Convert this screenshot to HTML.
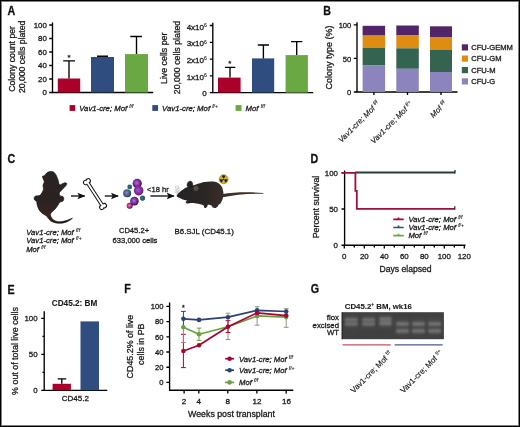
<!DOCTYPE html>
<html><head><meta charset="utf-8">
<style>
html,body{margin:0;padding:0;background:#fff;}
body{width:520px;height:427px;overflow:hidden;position:relative;}
svg{position:absolute;left:0;top:0;display:block;will-change:transform;}
text{font-family:"Liberation Sans",sans-serif;fill:#1a1a1a;stroke:#1a1a1a;stroke-width:0.3px;}
.it{font-style:italic;}
tspan[font-size="5"]{stroke-width:0.12px;}
.lt text{stroke-width:0.16px;}
.b{font-weight:bold;stroke-width:0.1px;}
.pl{font-weight:bold;font-size:12.6px;stroke:#111;stroke-width:0.3px;fill:#111;}
</style></head><body>
<svg width="520" height="427" viewBox="0 0 520 427">
<rect x="0" y="0" width="520" height="427" fill="#fff"/>

<!-- ============ PANEL A ============ -->
<text transform="translate(7.5,14.6) scale(0.85,1)" class="pl">A</text>
<g font-size="8.7">
  <text transform="translate(15.4,58.9) rotate(-90)" text-anchor="middle">Colony count per</text>
  <text transform="translate(25,56.9) rotate(-90)" text-anchor="middle">20,000 cells plated</text>
</g>
<g font-size="7.9" text-anchor="end">
  <text x="46.8" y="27.8">100</text>
  <text x="46.8" y="41.3">80</text>
  <text x="46.8" y="54.8">60</text>
  <text x="46.8" y="68.3">40</text>
  <text x="46.8" y="81.8">20</text>
  <text x="46.8" y="95.3">0</text>
</g>
<g stroke="#000" stroke-width="1.35" fill="none">
  <path d="M52.5,22.6V92.5H153.2"/>
  <path d="M49.2,25H52.5M49.2,38.5H52.5M49.2,52H52.5M49.2,65.5H52.5M49.2,79H52.5M49.2,92.5H52.5"/>
</g>
<rect x="57.8" y="78.5" width="22.4" height="14" fill="#ab0029"/>
<rect x="91" y="57" width="23" height="35.5" fill="#2f4d7e"/>
<rect x="125" y="54.1" width="23" height="38.4" fill="#69a843"/>
<g stroke="#000" stroke-width="1.35" fill="none">
  <path d="M69,78.5V60.9M63.2,60.9H75"/>
  <path d="M102.5,57V56.2M97,56.2H108"/>
  <path d="M136.5,54.1V36.5M130.3,36.5H142"/>
</g>
<text x="69" y="59.5" font-size="8" text-anchor="middle">*</text>

<!-- A right chart -->
<g font-size="8.8">
  <text transform="translate(167.4,58.3) rotate(-90)" text-anchor="middle">Live cells per</text>
  <text transform="translate(179.6,57.5) rotate(-90)" text-anchor="middle">20,000 cells plated</text>
</g>
<g font-size="8" text-anchor="end">
  <text x="206.8" y="29.5">4x10<tspan dy="-2.8" font-size="5">6</tspan></text>
  <text x="206.8" y="46.3">3x10<tspan dy="-2.8" font-size="5">6</tspan></text>
  <text x="206.8" y="63">2x10<tspan dy="-2.8" font-size="5">6</tspan></text>
  <text x="206.8" y="79.8">1x10<tspan dy="-2.8" font-size="5">6</tspan></text>
  <text x="206.6" y="95.5">0</text>
</g>
<g stroke="#000" stroke-width="1.35" fill="none">
  <path d="M212.8,22.7V92.6H313.2"/>
  <path d="M209.8,25.5H212.8M209.8,42.3H212.8M209.8,59.1H212.8M209.8,75.8H212.8M209.8,92.6H212.8"/>
</g>
<rect x="218" y="77.6" width="22.6" height="15" fill="#ab0029"/>
<rect x="252" y="58.4" width="22.2" height="34.2" fill="#2f4d7e"/>
<rect x="285.6" y="55.1" width="22.3" height="37.5" fill="#69a843"/>
<g stroke="#000" stroke-width="1.35" fill="none">
  <path d="M230,77.6V67.3M225,67.3H235.3"/>
  <path d="M263.4,58.4V45M257.8,45H269"/>
  <path d="M296.7,55.1V41.6M291,41.6H302.3"/>
</g>
<text x="229.7" y="65.8" font-size="8" text-anchor="middle">*</text>

<!-- A legend -->
<rect x="69.6" y="105.1" width="5.6" height="5.8" fill="#ab0029"/>
<text x="79.2" y="110.6" font-size="7.75" class="it">Vav1-cre; Mof<tspan dx="0.8" dy="-3" font-size="5"> f/f</tspan></text>
<rect x="152.3" y="105.1" width="5.8" height="5.8" fill="#2f4d7e"/>
<text x="162.1" y="110.6" font-size="7.75" class="it">Vav1-cre; Mof<tspan dx="0.8" dy="-3" font-size="5"> f/+</tspan></text>
<rect x="235.6" y="105.1" width="5.9" height="5.8" fill="#69a843"/>
<text x="245.6" y="110.6" font-size="7.75" class="it">Mof<tspan dx="0.8" dy="-3" font-size="5"> f/f</tspan></text>

<!-- ============ PANEL B ============ -->
<text transform="translate(323.3,14.6) scale(0.85,1)" class="pl">B</text>
<text transform="translate(331.8,57.5) rotate(-90)" text-anchor="middle" font-size="9">Colony type (%)</text>
<g font-size="7.6" text-anchor="end">
  <text x="351.3" y="27.9">100</text>
  <text x="351.3" y="61.9">50</text>
  <text x="351.3" y="95">0</text>
</g>
<g stroke="#000" stroke-width="1.35" fill="none">
  <path d="M357,22.2V92H457.5"/>
  <path d="M353.8,24.8H357M353.8,58.4H357M353.8,92H357"/>
  <path d="M373.9,92V95M407.5,92V95M441,92V95"/>
</g>
<!-- bar1 -->
<rect x="362.6" y="25.8" width="22.5" height="9.8" fill="#522568"/>
<rect x="362.6" y="35.6" width="22.5" height="12.4" fill="#de8c12"/>
<rect x="362.6" y="48" width="22.5" height="17.1" fill="#346450"/>
<rect x="362.6" y="65.1" width="22.5" height="26.9" fill="#8c85bd"/>
<!-- bar2 -->
<rect x="396.3" y="25.5" width="22.5" height="10" fill="#522568"/>
<rect x="396.3" y="35.5" width="22.5" height="12.8" fill="#de8c12"/>
<rect x="396.3" y="48.3" width="22.5" height="20.5" fill="#346450"/>
<rect x="396.3" y="68.8" width="22.5" height="23.2" fill="#8c85bd"/>
<!-- bar3 -->
<rect x="430" y="26.3" width="22" height="10.7" fill="#522568"/>
<rect x="430" y="37" width="22" height="13" fill="#de8c12"/>
<rect x="430" y="50" width="22" height="22" fill="#346450"/>
<rect x="430" y="72" width="22" height="20" fill="#8c85bd"/>
<!-- B legend -->
<rect x="461.8" y="44.3" width="6.2" height="6.2" fill="#522568"/>
<rect x="461.8" y="55.5" width="6.2" height="6.2" fill="#de8c12"/>
<rect x="461.8" y="67" width="6.2" height="6.2" fill="#346450"/>
<rect x="461.8" y="78.3" width="6.2" height="6.2" fill="#8c85bd"/>
<g font-size="7.6">
  <text x="471.2" y="50.2">CFU-GEMM</text>
  <text x="471.2" y="61.4">CFU-GM</text>
  <text x="471.2" y="72.9">CFU-M</text>
  <text x="471.2" y="84.2">CFU-G</text>
</g>
<g font-size="7.8" class="it lt" text-anchor="end">
  <text transform="translate(380,104.5) rotate(-45)">Vav1-cre; Mof<tspan dx="0.8" dy="-3" font-size="5"> f/f</tspan></text>
  <text transform="translate(413.5,104.5) rotate(-45)">Vav1-cre; Mof<tspan dx="0.8" dy="-3" font-size="5"> f/+</tspan></text>
  <text transform="translate(447,104.5) rotate(-45)">Mof<tspan dx="0.8" dy="-3" font-size="5"> f/f</tspan></text>
</g>

<!-- ============ PANEL C ============ -->
<text transform="translate(7.6,163.1) scale(0.85,1)" class="pl">C</text>
<defs>
  <linearGradient id="mg1" x1="0" y1="0" x2="0" y2="1">
    <stop offset="0" stop-color="#292423"/>
    <stop offset="0.55" stop-color="#2a2221"/>
    <stop offset="0.85" stop-color="#3a2422"/>
    <stop offset="1" stop-color="#2a1c1a"/>
  </linearGradient>
  <linearGradient id="mg2" x1="0" y1="0" x2="1" y2="0">
    <stop offset="0" stop-color="#252323"/>
    <stop offset="0.6" stop-color="#2a2624"/>
    <stop offset="1" stop-color="#3b2e28"/>
  </linearGradient>
  <marker id="ah" viewBox="0 0 10 10" refX="9" refY="5" markerWidth="8" markerHeight="7.4" markerUnits="userSpaceOnUse" orient="auto" preserveAspectRatio="none">
    <path d="M0,0.5 L10,5 L0,9.5 L2.2,5 Z" fill="#111"/>
  </marker>
</defs>
<!-- left mouse (top view) -->
<path fill="url(#mg1)" stroke="#0c0a0a" stroke-width="0.6" d="M49.90,171.50 C50.98,171.35 52.38,171.33 53.40,171.90 C54.42,172.47 55.22,173.53 56.00,174.90 C56.78,176.27 57.53,178.48 58.10,180.10 C58.67,181.72 58.82,183.92 59.40,184.60 C59.98,185.28 60.73,184.50 61.60,184.20 C62.47,183.90 63.73,182.90 64.60,182.80 C65.47,182.70 66.60,183.10 66.80,183.60 C67.00,184.10 66.40,184.98 65.80,185.80 C65.20,186.62 64.02,187.63 63.20,188.50 C62.38,189.37 61.57,190.25 60.90,191.00 C60.23,191.75 59.32,192.17 59.20,193.00 C59.08,193.83 59.63,195.45 60.20,196.00 C60.77,196.55 62.00,195.88 62.60,196.30 C63.20,196.72 63.77,197.68 63.80,198.50 C63.83,199.32 63.47,200.58 62.80,201.20 C62.13,201.82 60.65,201.47 59.80,202.20 C58.95,202.93 58.48,204.47 57.70,205.60 C56.92,206.73 56.13,207.85 55.10,209.00 C54.07,210.15 52.28,211.50 51.50,212.50 C50.72,213.50 50.25,213.92 50.40,215.00 C50.55,216.08 51.47,217.97 52.40,219.00 C53.33,220.03 54.57,220.75 56.00,221.20 C57.43,221.65 59.28,221.82 61.00,221.70 C62.72,221.58 64.40,221.07 66.30,220.50 C68.20,219.93 72.32,218.07 72.40,218.30 C72.48,218.53 68.78,221.08 66.80,221.90 C64.82,222.72 62.47,223.07 60.50,223.20 C58.53,223.33 56.60,223.07 55.00,222.70 C53.40,222.33 52.03,221.73 50.90,221.00 C49.77,220.27 48.92,219.13 48.20,218.30 C47.48,217.47 47.55,216.80 46.60,216.00 C45.65,215.20 43.73,214.50 42.50,213.50 C41.27,212.50 40.08,211.42 39.20,210.00 C38.32,208.58 37.63,206.42 37.20,205.00 C36.77,203.58 37.03,202.33 36.60,201.50 C36.17,200.67 35.00,200.67 34.60,200.00 C34.20,199.33 33.97,198.17 34.20,197.50 C34.43,196.83 35.17,196.32 36.00,196.00 C36.83,195.68 38.33,195.93 39.20,195.60 C40.07,195.27 40.50,195.00 41.20,194.00 C41.90,193.00 43.10,191.05 43.40,189.60 C43.70,188.15 42.85,186.60 43.00,185.30 C43.15,184.00 44.30,182.95 44.30,181.80 C44.30,180.65 43.30,179.33 43.00,178.40 C42.70,177.47 42.22,176.70 42.50,176.20 C42.78,175.70 43.97,175.97 44.70,175.40 C45.43,174.83 46.03,173.45 46.90,172.80 C47.77,172.15 48.82,171.65 49.90,171.50Z"/>
<!-- arrows -->
<g stroke="#111" stroke-width="1.35" fill="none">
  <path d="M71,196H84.6" marker-end="url(#ah)"/>
  <path d="M104.8,196H118.1" marker-end="url(#ah)"/>
  <path d="M150.4,196H173.9" marker-end="url(#ah)"/>
</g>
<!-- bone -->
<g transform="translate(95,194.1) rotate(57)">
  <g fill="#111" stroke="#111" stroke-width="2">
    <rect x="-14" y="-0.9" width="28" height="1.8"/>
    <circle cx="-14.8" cy="-1.5" r="1.7"/><circle cx="-14.8" cy="1.5" r="1.7"/>
    <circle cx="14.8" cy="-1.5" r="1.7"/><circle cx="14.8" cy="1.5" r="1.7"/>
  </g>
  <g fill="#fff">
    <rect x="-14.5" y="-0.9" width="29" height="1.8"/>
    <circle cx="-14.8" cy="-1.5" r="1.7"/><circle cx="-14.8" cy="1.5" r="1.7"/>
    <circle cx="14.8" cy="-1.5" r="1.7"/><circle cx="14.8" cy="1.5" r="1.7"/>
  </g>
</g>
<!-- cells -->
<defs>
  <radialGradient id="gP" cx="0.45" cy="0.45" r="0.55"><stop offset="0" stop-color="#b070d8"/><stop offset="0.55" stop-color="#7e34a8"/><stop offset="0.85" stop-color="#4a1a6a"/><stop offset="1" stop-color="#2a1038"/></radialGradient>
  <radialGradient id="gPM" cx="0.45" cy="0.45" r="0.55"><stop offset="0" stop-color="#a060d8"/><stop offset="0.55" stop-color="#7a32aa"/><stop offset="0.8" stop-color="#9a2288"/><stop offset="1" stop-color="#3a1030"/></radialGradient>
  <radialGradient id="gB" cx="0.45" cy="0.45" r="0.55"><stop offset="0" stop-color="#4a78c8"/><stop offset="0.5" stop-color="#2a4a94"/><stop offset="0.78" stop-color="#2a8048"/><stop offset="1" stop-color="#1a3020"/></radialGradient>
  <radialGradient id="gBP" cx="0.45" cy="0.45" r="0.55"><stop offset="0" stop-color="#8a88d8"/><stop offset="0.55" stop-color="#5a56a8"/><stop offset="0.8" stop-color="#2a7848"/><stop offset="1" stop-color="#18281c"/></radialGradient>
  <radialGradient id="gK" cx="0.45" cy="0.45" r="0.55"><stop offset="0" stop-color="#f070b8"/><stop offset="0.55" stop-color="#c03488"/><stop offset="0.85" stop-color="#6a1a50"/><stop offset="1" stop-color="#2a0c20"/></radialGradient>
</defs>
<g>
  <circle cx="129.7" cy="186.9" r="2.4" fill="url(#gB)"/>
  <circle cx="127.1" cy="193.2" r="4" fill="url(#gBP)"/>
  <circle cx="137.2" cy="183.4" r="4.6" fill="url(#gP)"/>
  <circle cx="138.6" cy="190.6" r="4.8" fill="url(#gPM)"/>
  <circle cx="142.5" cy="198.1" r="2.6" fill="url(#gB)"/>
  <circle cx="134.4" cy="201.1" r="4.3" fill="url(#gP)"/>
  <circle cx="129.7" cy="205.8" r="3" fill="url(#gK)"/>
</g>
<text x="147.1" y="191.5" font-size="7.6">&lt;18 hr</text>
<!-- right mouse (side) -->
<g stroke="#9a9a9a" stroke-width="0.45" fill="none"><path d="M175.2,186.2L177.8,193M176.8,185.4L178.6,192.6M174.6,189.2L178,193.6M178.6,185.8L179.2,192.2M173.8,191.2L177.6,194"/></g>
<path fill="#3c2e29" d="M222.62,193.98 C234.04,192.08 248.85,191.87 263.24,192.92 L263.24,193.77 C248.85,193.35 234.04,194.62 222.62,197.37Z"/>
<path fill="url(#mg2)" d="M176.60,196.00 C176.60,195.13 178.18,193.63 179.20,192.60 C180.22,191.57 181.53,190.65 182.70,189.80 C183.87,188.95 185.07,188.07 186.20,187.50 C187.33,186.93 188.37,186.72 189.50,186.40 C190.63,186.08 191.92,185.90 193.00,185.60 C194.08,185.30 195.03,184.95 196.00,184.60 C196.97,184.25 197.37,183.93 198.80,183.50 C200.23,183.07 202.48,182.35 204.60,182.00 C206.72,181.65 209.38,181.32 211.50,181.40 C213.62,181.48 215.67,181.73 217.30,182.50 C218.93,183.27 220.33,184.62 221.30,186.00 C222.27,187.38 222.75,189.33 223.10,190.80 C223.45,192.27 223.47,193.47 223.40,194.80 C223.33,196.13 223.13,197.45 222.70,198.80 C222.27,200.15 221.48,201.90 220.80,202.90 C220.12,203.90 219.13,204.18 218.60,204.80 C218.07,205.42 218.10,206.07 217.60,206.60 C217.10,207.13 216.38,207.83 215.60,208.00 C214.82,208.17 213.58,208.03 212.90,207.60 C212.22,207.17 212.32,205.87 211.50,205.40 C210.68,204.93 208.70,204.60 208.00,204.80 C207.30,205.00 207.67,206.07 207.30,206.60 C206.93,207.13 206.35,207.83 205.80,208.00 C205.25,208.17 204.38,208.03 204.00,207.60 C203.62,207.17 204.75,206.07 203.50,205.40 C202.25,204.73 198.62,204.00 196.50,203.60 C194.38,203.20 192.12,203.00 190.80,203.00 C189.48,203.00 189.40,203.60 188.60,203.60 C187.80,203.60 186.43,203.33 186.00,203.00 C185.57,202.67 185.78,202.00 186.00,201.60 C186.22,201.20 187.85,200.97 187.30,200.60 C186.75,200.23 184.05,199.87 182.70,199.40 C181.35,198.93 180.22,198.37 179.20,197.80 C178.18,197.23 176.60,196.87 176.60,196.00Z"/>
<path fill="#262222" stroke="#0e0e0e" stroke-width="0.6" d="M187.60,186.60 C186.80,186.10 187.13,184.27 187.40,183.40 C187.67,182.53 188.53,181.70 189.20,181.40 C189.87,181.10 190.83,181.23 191.40,181.60 C191.97,181.97 192.47,182.80 192.60,183.60 C192.73,184.40 193.03,185.90 192.20,186.40 C191.37,186.90 188.40,187.10 187.60,186.60Z"/>
<circle cx="196" cy="188.4" r="3.1" fill="#564e44" stroke="#1a1818" stroke-width="0.7"/>
<!-- radiation -->
<g transform="translate(223.6,179.2)">
  <circle r="4.5" fill="#d8b226" stroke="#8c6c12" stroke-width="0.5"/>
  <circle r="0.8" fill="#222"/>
  <path fill="#222" d="M1.1,-0.6 L3.4,-2 A4,4 0 0 1 3.4,2 L1.1,0.6 Z" transform="rotate(-90)"/>
  <path fill="#222" d="M1.1,-0.6 L3.4,-2 A4,4 0 0 1 3.4,2 L1.1,0.6 Z" transform="rotate(30)"/>
  <path fill="#222" d="M1.1,-0.6 L3.4,-2 A4,4 0 0 1 3.4,2 L1.1,0.6 Z" transform="rotate(150)"/>
</g>
<g font-size="7.7" class="it">
  <text x="26.2" y="235">Vav1-cre; Mof<tspan dx="0.8" dy="-3" font-size="5"> f/f</tspan></text>
  <text x="26.2" y="243.1">Vav1-cre; Mof<tspan dx="0.8" dy="-3" font-size="5"> f/+</tspan></text>
  <text x="26.2" y="251.7">Mof<tspan dx="0.8" dy="-3" font-size="5"> f/f</tspan></text>
</g>
<g font-size="7.6" text-anchor="middle">
  <text x="134" y="233">CD45.2+</text>
  <text x="135" y="243">633,000 cells</text>
  <text x="204.2" y="233.8" font-size="7.9">B6.SJL (CD45.1)</text>
</g>

<!-- ============ PANEL D ============ -->
<text transform="translate(310.6,162.6) scale(0.85,1)" class="pl">D</text>
<text transform="translate(319,207) rotate(-90)" text-anchor="middle" font-size="8.8">Percent survival</text>
<g font-size="7.9" text-anchor="end">
  <text x="338" y="175.7">100</text>
  <text x="338" y="211.9">50</text>
  <text x="338" y="248.1">0</text>
</g>
<g font-size="7.9" text-anchor="middle">
  <text x="344.3" y="258.6">0</text>
  <text x="364.3" y="258.6">20</text>
  <text x="384.3" y="258.6">40</text>
  <text x="404.3" y="258.6">60</text>
  <text x="424.3" y="258.6">80</text>
  <text x="444.3" y="258.6">100</text>
  <text x="464.3" y="258.6">120</text>
</g>
<text x="405.6" y="271.6" font-size="8.6" text-anchor="middle">Days elapsed</text>
<g stroke="#000" stroke-width="1.35" fill="none">
  <path d="M344.6,170.4V245.2H465.5"/>
  <path d="M341.5,172.8H344.5M341.5,209H344.5M341.5,245.2H344.5"/>
  <path d="M344.3,245V248.5M354.3,245V247.5M364.3,245V248.5M374.3,245V247.5M384.3,245V248.5M394.3,245V247.5M404.3,245V248.5M414.3,245V247.5M424.3,245V248.5M434.3,245V247.5M444.3,245V248.5M454.3,245V247.5M464.3,245V248.5"/>
</g>
<g fill="none" stroke-width="1.3">
  <path d="M355,172.6H455" stroke="#2b3d38" stroke-width="2"/>
  <path d="M455,173.5V170" stroke="#1a2420" stroke-width="1.2"/>
  <path d="M341.6,172.8H355.4V190.9H356.8V208.9H454.8" stroke="#9a1040" stroke-width="1.8"/>
  <path d="M454.8,209.5V206.2" stroke="#2a1a1a" stroke-width="1.2"/>
</g>
<g fill="none" stroke-width="1.7">
  <path d="M393.3,219.4H403.7M398.5,217.5V219.4" stroke="#a6052f"/>
  <path d="M393.3,227.5H403.7M398.5,225.6V227.5" stroke="#2f4d7e"/>
  <path d="M393.3,235.6H403.7M398.5,233.7V235.6" stroke="#69a843"/>
</g>
<g font-size="7.7" class="it">
  <text x="408.4" y="222">Vav1-cre; Mof<tspan dx="0.8" dy="-3" font-size="5"> f/f</tspan></text>
  <text x="408.4" y="230.1">Vav1-cre; Mof<tspan dx="0.8" dy="-3" font-size="5"> f/+</tspan></text>
  <text x="408.4" y="238.2">Mof<tspan dx="0.8" dy="-3" font-size="5"> f/f</tspan></text>
</g>

<!-- ============ PANEL E ============ -->
<text transform="translate(7.5,293.5) scale(0.85,1)" class="pl">E</text>
<text x="74.5" y="306.1" class="b" font-size="8.2" text-anchor="middle">CD45.2: BM</text>
<text transform="translate(17.6,351) rotate(-90)" text-anchor="middle" font-size="8.9">% out of total live cells</text>
<g font-size="7.9" text-anchor="end">
  <text x="37.6" y="321.4">100</text>
  <text x="37.6" y="357.3">50</text>
  <text x="37.6" y="393.1">0</text>
</g>
<g stroke="#000" stroke-width="1.35" fill="none">
  <path d="M44.2,311.2V390.3H107.3"/>
  <path d="M41.2,318.4H44.2M41.2,354.4H44.2M41.2,390.3H44.2M42.4,336.4H44.2M42.4,372.3H44.2"/>
</g>
<rect x="52.6" y="383.8" width="18.3" height="6.5" fill="#ab0029"/>
<rect x="80.5" y="321.4" width="18.5" height="68.9" fill="#2f4d7e"/>
<g stroke="#000" stroke-width="1.35" fill="none">
  <path d="M61.8,383.8V378.8M57.7,378.8H66.2"/>
</g>
<text x="75.3" y="401.2" font-size="8" text-anchor="middle">CD45.2</text>

<!-- ============ PANEL F ============ -->
<text transform="translate(124.2,293.2) scale(0.85,1)" class="pl">F</text>
<g font-size="8.9" text-anchor="middle">
  <text transform="translate(132.7,346.6) rotate(-90)">CD45.2% of live</text>
  <text transform="translate(144.3,344.2) rotate(-90)">cells in PB</text>
</g>
<g font-size="7.6" text-anchor="end">
  <text x="163.5" y="309.2">100</text>
  <text x="163.5" y="324.4">80</text>
  <text x="163.5" y="339.6">60</text>
  <text x="163.5" y="354.8">40</text>
  <text x="163.5" y="370">20</text>
  <text x="163.5" y="385.2">0</text>
</g>
<g stroke="#000" stroke-width="1.35" fill="none">
  <path d="M169.6,302.6V390.2H293.3"/>
  <path d="M166.4,306.4H169.6M166.4,321.6H169.6M166.4,336.8H169.6M166.4,352H169.6M166.4,367.2H169.6M166.4,382.4H169.6"/>
  <path d="M184.1,390V393.5M198.8,390V393.5M227.8,390V393.5M256.9,390V393.5M286.2,390V393.5"/>
</g>
<g font-size="8.1" text-anchor="middle">
  <text x="184.1" y="404.1">2</text>
  <text x="198.8" y="404.1">4</text>
  <text x="227.8" y="404.1">8</text>
  <text x="256.9" y="404.1">12</text>
  <text x="286.5" y="404.1">16</text>
</g>
<text x="231.5" y="417" font-size="8.8" text-anchor="middle">Weeks post transplant</text>
<text x="183.4" y="310" font-size="7" text-anchor="middle">*</text>
<!-- error bars -->
<g fill="none" stroke-width="1">
  <path d="M183.4,334.3V367.6M181,334.3H185.8M181,367.6H185.8" stroke="#a6052f"/>
  <path d="M183.4,311.4V326M181,311.4H185.8" stroke="#2a4372"/>
  <path d="M183.4,327V342.5M181,342.5H185.8" stroke="#c07080"/>
  <path d="M199,328.1V340.4M196.6,328.1H201.4M196.6,340.4H201.4" stroke="#68a041"/>
  <path d="M228,313.2V339.5M225.6,313.2H230.4M225.6,339.5H230.4" stroke="#8a9a7a"/>
  <path d="M228,320.7V332.5M225.6,320.7H230.4M225.6,332.5H230.4" stroke="#a6052f"/>
  <path d="M257.1,306.7V325.2M254.7,306.7H259.5M254.7,325.2H259.5" stroke="#8a9a7a"/>
  <path d="M286.2,308.7V327.3M283.8,308.7H288.6M283.8,327.3H288.6" stroke="#8a9a7a"/>
</g>
<g fill="none" stroke-width="1.7" stroke-linejoin="round">
  <polyline points="183.4,327.2 199,334.3 228,326.7 257.1,315.9 286.2,317.1" stroke="#68a041"/>
  <polyline points="183.4,318.8 199,319.9 228,317.2 257.1,310.4 286.2,311.5" stroke="#2a4372"/>
  <polyline points="183.4,351 199,345.2 228,326.7 257.1,312.9 286.2,315.6" stroke="#a6052f"/>
</g>
<g fill="#68a041"><circle cx="183.4" cy="327.2" r="2.3"/><circle cx="199" cy="334.3" r="2.3"/><circle cx="257.1" cy="315.9" r="2.3"/><circle cx="286.2" cy="317.1" r="2.3"/></g>
<g fill="#2a4372"><circle cx="183.4" cy="318.8" r="2.3"/><circle cx="199" cy="319.9" r="2.3"/><circle cx="228" cy="317.2" r="2.3"/><circle cx="257.1" cy="310.4" r="2.3"/><circle cx="286.2" cy="311.5" r="2.3"/></g>
<g fill="#a6052f"><circle cx="183.4" cy="351" r="2.3"/><circle cx="199" cy="345.2" r="2.3"/><circle cx="228" cy="326.7" r="2.3"/><circle cx="257.1" cy="312.9" r="2.3"/><circle cx="286.2" cy="315.6" r="2.3"/></g>
<!-- F legend -->
<g stroke-width="1.7">
  <path d="M225.2,358.7H234" stroke="#a6052f"/><circle cx="229.6" cy="358.7" r="2.3" fill="#a6052f"/>
  <path d="M225.2,370.2H234" stroke="#2a4372"/><circle cx="229.6" cy="370.2" r="2.3" fill="#2a4372"/>
  <path d="M225.2,382.4H234" stroke="#68a041"/><circle cx="229.6" cy="382.4" r="2.3" fill="#68a041"/>
</g>
<g font-size="7.7" class="it">
  <text x="239" y="361.5">Vav1-cre; Mof<tspan dx="0.8" dy="-3" font-size="5"> f/f</tspan></text>
  <text x="239" y="373">Vav1-cre; Mof<tspan dx="0.8" dy="-3" font-size="5"> f/+</tspan></text>
  <text x="239" y="385.2">Mof<tspan dx="0.8" dy="-3" font-size="5"> f/f</tspan></text>
</g>

<!-- ============ PANEL G ============ -->
<text transform="translate(310.7,293.4) scale(0.85,1)" class="pl">G</text>
<text x="344.8" y="309" class="b" font-size="7.8">CD45.2<tspan dy="-3" font-size="5">+</tspan><tspan dy="3"> BM, wk16</tspan></text>
<g font-size="7.8" text-anchor="end">
  <text x="339" y="320.4">flox</text>
  <text x="339" y="327.6">excised</text>
  <text x="339" y="335.4">WT</text>
</g>
<defs>
  <filter id="blur1" x="-20%" y="-50%" width="140%" height="200%"><feGaussianBlur stdDeviation="0.85"/></filter>
  <filter id="blur2" x="-30%" y="-30%" width="160%" height="160%"><feGaussianBlur stdDeviation="1.5"/></filter>
</defs>
<rect x="341.7" y="312.2" width="102.2" height="27" fill="#404040"/>
<rect x="341.7" y="312.2" width="1.2" height="27" fill="#2a2a2a"/>
<g fill="#484848" filter="url(#blur2)">
  <rect x="344.5" y="315" width="13.5" height="13"/><rect x="361.9" y="315" width="13.4" height="13"/><rect x="379" y="314.5" width="12.8" height="13.5"/>
  <rect x="395.8" y="319" width="13.3" height="16"/><rect x="411.8" y="319" width="13.3" height="16"/><rect x="428" y="319" width="13.3" height="16"/>
</g>
<g fill="#767676" filter="url(#blur1)">
  <rect x="345" y="318.4" width="12.5" height="2.8"/><rect x="345" y="322.5" width="12.5" height="2.9"/>
  <rect x="362.4" y="318.4" width="12.4" height="2.8"/><rect x="362.4" y="322.5" width="12.4" height="2.9"/>
  <rect x="379.6" y="317.4" width="11.8" height="3.2"/><rect x="379.6" y="321.4" width="11.8" height="3.8"/>
  <rect x="396.3" y="322.2" width="12.3" height="3.4"/><rect x="396.3" y="329.3" width="12.3" height="3.3"/>
  <rect x="412.3" y="322.2" width="12.3" height="3.4"/><rect x="412.3" y="329.3" width="12.3" height="3.3"/>
  <rect x="428.5" y="322.2" width="12.3" height="3.4"/><rect x="428.5" y="329.3" width="12.3" height="3.3"/>
</g>
<path d="M342.5,344.8H390.8" stroke="#c4506a" stroke-width="1.3"/>
<path d="M394.6,344.8H442.6" stroke="#4a5a8e" stroke-width="1.3"/>
<g font-size="7.9" text-anchor="end" class="lt">
  <text transform="translate(392.6,354.6) rotate(-45)">Vav1-cre; Mof<tspan dx="0.8" dy="-3" font-size="5"> f/f</tspan></text>
  <text transform="translate(443.3,353.6) rotate(-45)">Vav1-cre; Mof<tspan dx="0.8" dy="-3" font-size="5"> f/+</tspan></text>
</g>

<!-- border -->
<rect x="0.5" y="0.5" width="519" height="426" fill="none" stroke="#000" stroke-width="1"/>
<rect x="1.5" y="1.5" width="517" height="424" fill="none" stroke="#000" stroke-opacity="0.5" stroke-width="1"/>

</svg>
</body></html>
